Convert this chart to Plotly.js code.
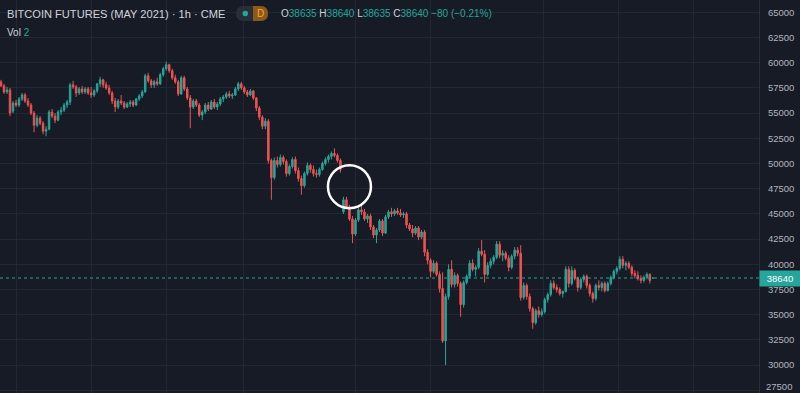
<!DOCTYPE html>
<html>
<head>
<meta charset="utf-8">
<script src="https://cdn.plot.ly/plotly-3.0.1.min.js"></script>
<style>html,body{margin:0;padding:0;background:#171b26;}#chart{width:800px;height:393px;}</style>
</head>
<body>
<div id="chart"></div>
<script>
// Hourly OHLC candles
const open = [58100,57700,57100,57300,55200,56000,55800,56400,56800,56200,55800,55000,53800,54500,54000,53200,53400,55100,54700,54300,55100,55300,55800,56100,57800,57600,57000,57400,57100,57400,
57000,56800,57200,57900,58300,57800,57500,57000,56200,55600,56200,56000,55600,55900,56100,55800,56400,56700,57100,58700,58200,57800,58100,57900,58800,59400,59800,59200,58500,58100,
56900,58500,57400,56500,55600,56200,55800,54800,55100,55800,55400,56100,55600,55900,56400,56600,56900,56700,56800,57400,57900,57500,57100,56800,57200,56500,55500,54600,53700,54200,
50300,48600,50300,49900,50600,50200,49000,49700,50400,49300,48500,47800,49000,49800,49400,49000,48900,49400,50000,50400,50700,51000,50800,50300,45200,46400,45700,44500,43000,44400,
45400,45200,44500,44800,43700,42900,43400,44300,43100,44700,45200,45000,45300,45100,44900,45000,43900,43500,43100,43600,42700,43200,41200,40400,39300,40100,39000,37600,32400,36800,
39500,38000,38900,38100,36000,38200,38800,40100,39500,39700,41300,41000,39000,39900,40300,40700,42000,40900,41100,40600,39700,40800,41400,41100,36700,37900,36800,35600,34200,35400,
35000,35300,36500,37000,38100,37700,37500,37100,37300,39500,38100,39400,38600,37700,38500,38800,37900,37100,36600,37900,37700,38100,37400,38100,38700,39300,39600,40500,39900,40100,
39700,39100,38900,38600,38400,38700,39000,38635];
const high = [58300,57900,57600,57500,56200,56300,56600,57000,57000,56500,56000,55200,54800,54700,54200,53700,55300,55400,55000,55300,55600,56000,56300,58000,58200,57800,57600,57700,57600,57600,
57600,57400,58000,58600,58400,58100,57800,57200,56500,56400,56800,56200,56100,56300,56300,56500,56900,57300,58900,59000,58400,58300,58500,59000,59600,60100,59900,59400,58800,58300,
58700,58700,57600,56800,56400,56400,56000,55300,56000,56100,56300,56400,56100,56600,56800,57100,57200,57000,57600,58100,58100,57700,57300,57400,57300,56600,55700,54800,54500,54400,
50500,50600,50700,50900,50800,50400,49900,50600,50700,49600,48800,49200,50100,50000,49800,49400,49600,50200,50600,50900,51200,51500,51000,50500,46700,46700,45900,44800,44600,45700,
45900,45500,45000,45000,43900,43600,44500,44500,44900,45400,45600,45500,45600,45500,45200,45200,44100,43900,43800,43800,43400,43400,41500,40600,40400,40300,39300,39200,37100,40000,
40400,39200,39100,38300,38400,39000,40400,40500,39900,41600,42400,41400,40200,40600,40900,42300,42300,41400,41300,40900,41000,41700,41700,41900,38200,38100,37100,35800,35600,35800,
35600,36700,37200,38400,38400,38000,37700,37400,39800,39800,39800,39600,38800,38700,39000,39000,38100,37300,38100,38400,38300,38300,38300,38900,39500,39800,40800,40800,40300,40300,
39900,39400,39300,38900,38900,39200,39100,38640];
const low = [57600,56900,56900,54700,55000,55600,55600,56200,56000,55600,54800,53100,53600,53800,52900,52700,53300,54500,54000,54200,54800,55100,55500,55800,57400,56600,56800,56900,56900,56800,
56500,56600,57000,57600,57500,57300,56800,55900,55100,55400,55800,55400,55500,55600,55600,55700,56200,56500,57000,58000,57500,57500,57700,57800,58600,59200,59000,58300,57900,56700,
56800,57200,56300,53500,55400,55600,54600,54300,54900,55200,55300,55400,55300,55700,56100,56400,56500,56400,56700,57200,57300,56900,56600,56700,56300,55200,54300,53400,53400,50000,
46400,48400,49600,49700,49900,48700,48800,49500,49000,48200,46900,47600,48800,49100,48700,48600,48700,49300,49800,50100,50400,50600,50100,49100,45000,45500,44300,42100,42800,44200,
44900,44300,44100,43400,42600,42100,43200,42800,43000,44500,44700,44800,44900,44700,44600,43600,43300,42700,42900,42400,42500,40800,40000,38700,39100,38800,37200,32200,30000,36500,
37700,37700,37800,34800,35700,38000,38600,39300,38800,39500,40800,38200,38800,39600,40000,40500,40600,40300,40400,39300,39500,40500,40800,36400,36500,36500,35300,33600,34000,34700,
34800,35100,36200,36800,37500,37200,36900,36700,37200,37700,37900,38400,37300,37500,38200,37600,36800,36200,36400,37400,37300,37200,37300,37900,38500,39000,39400,39600,39400,39500,
38800,38600,38400,38100,38200,38500,38100,38635];
const close = [57700,57100,57300,55000,56000,55800,56400,56800,56200,55800,55000,53800,54500,54000,53200,53400,55100,54700,54300,55100,55300,55800,56100,57800,57600,57000,57400,57100,57400,57000,
56800,57200,57900,58300,57800,57500,57000,56200,55600,56200,56000,55600,55900,56100,55800,56400,56700,57100,58700,58200,57800,58100,57900,58800,59400,59800,59200,58500,58100,56900,
58500,57400,56500,55600,56200,55800,54800,55100,55800,55400,56100,55600,55900,56400,56600,56900,56700,56800,57400,57900,57500,57100,56800,57200,56500,55500,54600,53700,54200,50300,
48600,50300,49900,50600,50200,49000,49700,50400,49300,48500,47800,49000,49800,49400,49000,48900,49400,50000,50400,50700,51000,50800,50300,49400,46400,45700,44500,43000,44400,45400,
45200,44500,44800,43700,42900,43400,44300,43100,44700,45200,45000,45300,45100,44900,45000,43900,43500,43100,43600,42700,43200,41200,40400,39300,40100,39000,37600,32400,36800,39500,
38000,38900,38100,36000,38200,38800,40100,39500,39700,41300,41000,39000,39900,40300,40700,42000,40900,41100,40600,39700,40800,41400,41100,36700,37900,36800,35600,34200,35400,35000,
35300,36500,37000,38100,37700,37500,37100,37300,39500,38100,39400,38600,37700,38500,38800,37900,37100,36600,37900,37700,38100,37400,38100,38700,39300,39600,40500,39900,40100,39700,
39100,38900,38600,38400,38700,39000,38400,38640];

// Axis ticks
const priceTicks = [27500,30000,32500,35000,37500,40000,42500,45000,47500,50000,52500,55000,57500,60000,62500,65000];
const timeGrid = [5, 30.2, 55.2, 80.6, 118, 143, 180.6, 205.4, 230.4];

// Header text
const symbolTitle = 'BITCOIN FUTURES (MAY 2021) · 1h · CME';
const lastO = 38635, lastH = 38640, lastL = 38635, lastC = 38640;
const change = '−80 (−0.21%)';
const volume = 2;
const lastPrice = 38640;
// highlighted spot (bar index, price)
const markIndex = 116, markPrice = 47700;

const UP = '#26a69a', DOWN = '#ef5350', BG = '#171b26', GRID = '#232734', TXT = '#b2b5be';
const idx = open.map((_, i) => i);
const yMin = 27232, yMax = 66220;

const trace = {
  type: 'candlestick', x: idx, open: open, high: high, low: low, close: close,
  increasing: {line: {color: UP, width: 1}, fillcolor: UP},
  decreasing: {line: {color: DOWN, width: 1}, fillcolor: DOWN},
  whiskerwidth: 0, hoverinfo: 'skip', showlegend: false
};

const W = 759, H = 393;
const px = v => v / W, py = v => 1 - v / H;
const T = c => `<span style="color:${UP}">${c}</span>`;

// capsule-ish path helper (pixel coords -> paper coords)
function capsule(x0, x1, y0, y1, rl, rr) {
  const m = (y0 + y1) / 2;
  let d = `M${px(x0 + rl)},${py(y0)} L${px(x1 - rr)},${py(y0)}`;
  d += rr ? ` Q${px(x1)},${py(y0)} ${px(x1)},${py(m)} Q${px(x1)},${py(y1)} ${px(x1 - rr)},${py(y1)}` : ` L${px(x1)},${py(y0)} L${px(x1)},${py(y1)}`;
  d += ` L${px(x0 + rl)},${py(y1)}`;
  d += rl ? ` Q${px(x0)},${py(y1)} ${px(x0)},${py(m)} Q${px(x0)},${py(y0)} ${px(x0 + rl)},${py(y0)} Z` : ` L${px(x0)},${py(y1)} L${px(x0)},${py(y0)} Z`;
  return d;
}

const layout = {
  width: 800, height: 393,
  margin: {l: 0, r: 41, t: 0, b: 0, pad: 0},
  paper_bgcolor: BG, plot_bgcolor: BG,
  font: {family: 'Liberation Sans, Arial, sans-serif', color: TXT},
  showlegend: false,
  xaxis: {range: [-0.333, 252.33], tickvals: timeGrid, showticklabels: false, ticks: '',
    showgrid: true, gridcolor: GRID, gridwidth: 1, zeroline: false, showline: false,
    rangeslider: {visible: false}, fixedrange: true},
  yaxis: {side: 'right', range: [yMin, yMax], tickvals: priceTicks, ticktext: priceTicks.map(String),
    showgrid: true, gridcolor: GRID, gridwidth: 1, zeroline: false,
    showline: true, linecolor: '#2a2e39', linewidth: 1, ticks: '', ticklabelstandoff: 6,
    tickfont: {size: 9.5, color: TXT, family: 'Liberation Sans, Arial, sans-serif'}, fixedrange: true},
  shapes: [
    {type: 'line', xref: 'paper', yref: 'y', x0: 0, x1: 1, y0: lastPrice, y1: lastPrice,
      line: {color: UP, width: 1, dash: 'dot'}},
    {type: 'circle', xref: 'x', yref: 'y', xsizemode: 'pixel', ysizemode: 'pixel',
      xanchor: markIndex, yanchor: markPrice, x0: -21.5, x1: 21.5, y0: -21.5, y1: 21.5,
      line: {color: '#ffffff', width: 2.5}},
    {type: 'path', xref: 'paper', yref: 'paper', path: capsule(236, 268, 6, 21, 7.5, 7.5),
      fillcolor: '#2a2e39', line: {width: 0}},
    {type: 'path', xref: 'paper', yref: 'paper', path: capsule(253, 268, 6, 21, 0, 7.5),
      fillcolor: '#8a5a1c', line: {width: 0}},
    {type: 'circle', xref: 'paper', yref: 'paper', x0: px(242.5), x1: px(248), y0: py(16.2), y1: py(10.7),
      fillcolor: UP, line: {width: 0}}
  ],
  annotations: [
    {xref: 'paper', yref: 'paper', x: px(5), y: py(14), xanchor: 'left', yanchor: 'middle', showarrow: false,
      text: symbolTitle, font: {size: 11.1, color: '#d1d4dc'}},
    {xref: 'paper', yref: 'paper', x: px(260), y: py(13.5), xanchor: 'center', yanchor: 'middle', showarrow: false,
      text: 'D', font: {size: 10, color: '#ffa726'}},
    {xref: 'paper', yref: 'paper', x: px(279), y: py(14), xanchor: 'left', yanchor: 'middle', showarrow: false,
      text: `O${T(lastO)} H${T(lastH)} L${T(lastL)} C${T(lastC)} ${T(change)}`, font: {size: 10, color: '#d1d4dc'}},
    {xref: 'paper', yref: 'paper', x: px(5), y: py(32), xanchor: 'left', yanchor: 'middle', showarrow: false,
      text: `Vol ${T(volume)}`, font: {size: 10, color: '#d1d4dc'}},
    {xref: 'paper', yref: 'paper', x: 1, y: 0, xanchor: 'left', yanchor: 'bottom', xshift: 5, yshift: -1, showarrow: false,
      text: String(priceTicks[0]), font: {size: 9.5, color: TXT}},
    {xref: 'paper', yref: 'y', x: 1, y: lastPrice, xanchor: 'left', yanchor: 'middle', showarrow: false,
      text: String(lastPrice), bgcolor: UP, width: 38, height: 13, align: 'center', borderpad: 1,
      font: {size: 9.5, color: '#ffffff'}}
  ]
};

Plotly.newPlot('chart', [trace], layout, {staticPlot: true, displayModeBar: false});
</script>
</body>
</html>
